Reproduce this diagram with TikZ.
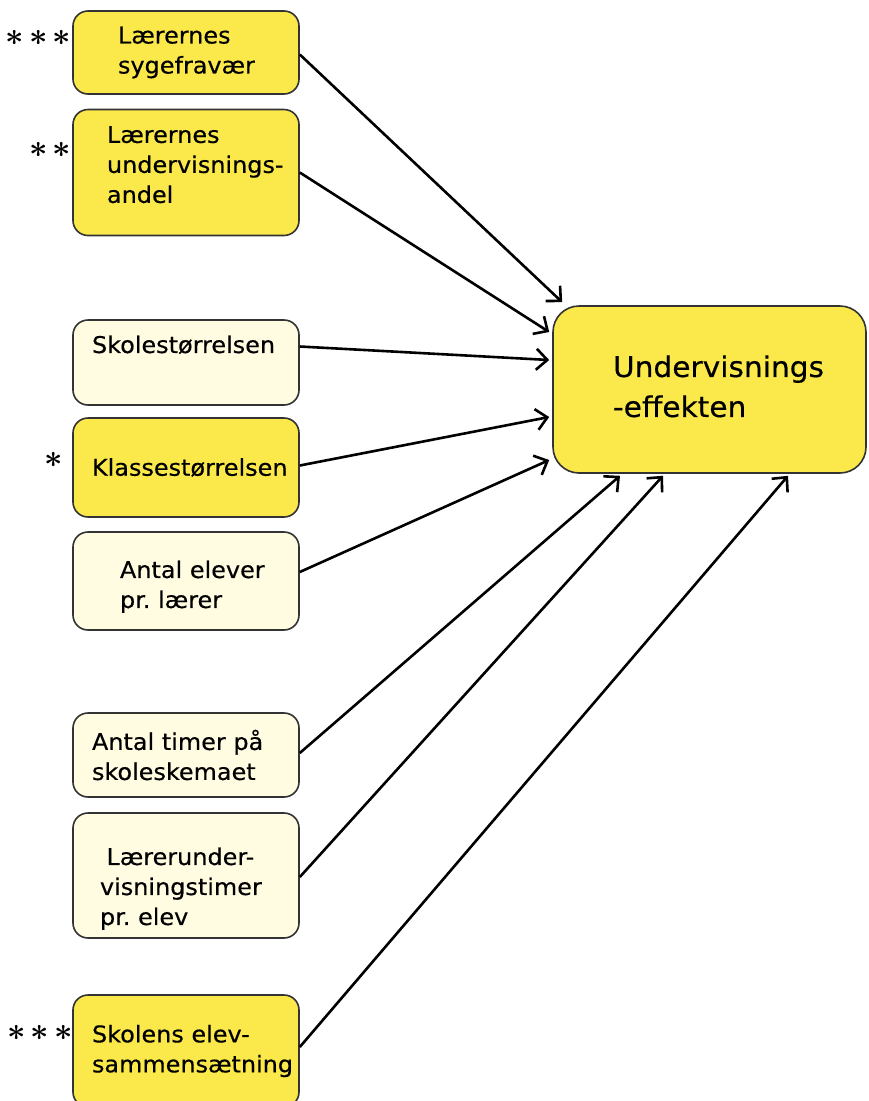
\documentclass[tikz,border=0pt]{standalone}
\usepackage{graphicx}
\usepackage{fontspec}
\setmainfont{DejaVu Sans}[FakeStretch=1.04, FakeBold=0.4]
\usetikzlibrary{arrows.meta}
\definecolor{strongyellow}{HTML}{FBE84B}
\definecolor{paleyellow}{HTML}{FFFCE1}
\hyphenpenalty=10000
\exhyphenpenalty=10000
\frenchspacing
\begin{document}
\begin{tikzpicture}[x=1pt, y=-1pt,
    factor/.style={draw=black!80, line width=1.6pt, rounded corners=15pt, fill=paleyellow, minimum width=226pt, align=left, inner sep=0pt, font=\fontsize{23}{30}\selectfont},
    signif/.style={factor, fill=strongyellow},
    outcome/.style={draw=black!80, line width=1.6pt, rounded corners=26pt, fill=strongyellow, minimum width=313pt, minimum height=167pt, align=left, inner sep=0pt, font=\fontsize{28.5}{40}\selectfont},
    stars/.style={inner sep=0pt, font=\normalsize\boldmath},
    arrow/.style={-{Straight Barb[length=11pt,width=21pt]}, line width=2.6pt}
]
    \useasboundingbox (0,0) rectangle (868,1101);

    % causes
    \node[signif, text width=136pt, minimum height=83pt] (sick) at (186,52.5) {Lærernes\\sygefravær};
    \node[signif, text width=158pt, minimum height=126pt, text depth=76pt] (share) at (186,172.5) {Lærernes\\undervisnings-\\andel};
    \node[factor, text width=188pt, minimum height=85pt, text depth=36.5pt] (size) at (186,362.5) {Skolestørrelsen};
    \node[signif, text width=188pt, minimum height=99pt] (class) at (186,467.5) {Klassestørrelsen};
    \node[factor, text width=132pt, minimum height=98pt, text depth=23.5pt] (ratio) at (186,581) {Antal~elever\\pr.~lærer};
    \node[factor, text width=188pt, minimum height=84pt] (hours) at (186,755) {Antal timer på\\skoleskemaet};
    \node[factor, text width=172pt, minimum height=125pt, text depth=38.5pt] (teach) at (186,875.5) {\hspace*{6.5pt}Lærerunder-\\visningstimer\\pr. elev};
    \node[signif, text width=188pt, minimum height=112pt] (mix) at (186,1051) {Skolens elev-\\sammensætning};

    % effect
    \node[outcome, text width=193pt, text depth=46.7pt] (effect) at (709.5,389.5) {Undervisnings\\-effekten};

    % significance
    \node[stars] (sickstars) at (38.5,38) {\scalebox{3.2}{${\ast}\kern1.6pt{\ast}\kern1.6pt{\ast}$}};
    \node[stars] (sharestars) at (50,150) {\scalebox{3.2}{${\ast}\kern1.6pt{\ast}$}};
    \node[stars] (classstars) at (53.5,460) {\scalebox{3.2}{${\ast}$}};
    \node[stars] (mixstars) at (40,1033) {\scalebox{3.2}{${\ast}\kern1.6pt{\ast}\kern1.6pt{\ast}$}};

    \draw[arrow] ([yshift=-2pt]sick.east) -- ([xshift=10pt,yshift=3pt]effect.north west);
    \draw[arrow] (share.east) -- ([xshift=-3pt,yshift=57.5pt]effect.west);
    \draw[arrow] ([yshift=16pt]size.east) -- ([xshift=-3pt,yshift=29.5pt]effect.west);
    \draw[arrow] ([yshift=2pt]class.east) -- ([xshift=-3pt,yshift=-27.5pt]effect.west);
    \draw[arrow] ([yshift=9pt]ratio.east) -- ([xshift=-3pt,yshift=-70.5pt]effect.west);
    \draw[arrow] ([yshift=2pt]hours.east) -- ([xshift=-89.5pt,yshift=-2pt]effect.south);
    \draw[arrow] ([yshift=-1.5pt]teach.east) -- ([xshift=-46.5pt,yshift=-2pt]effect.south);
    \draw[arrow] ([yshift=4pt]mix.east) -- ([xshift=78.5pt,yshift=-2pt]effect.south);
\end{tikzpicture}
\end{document}
